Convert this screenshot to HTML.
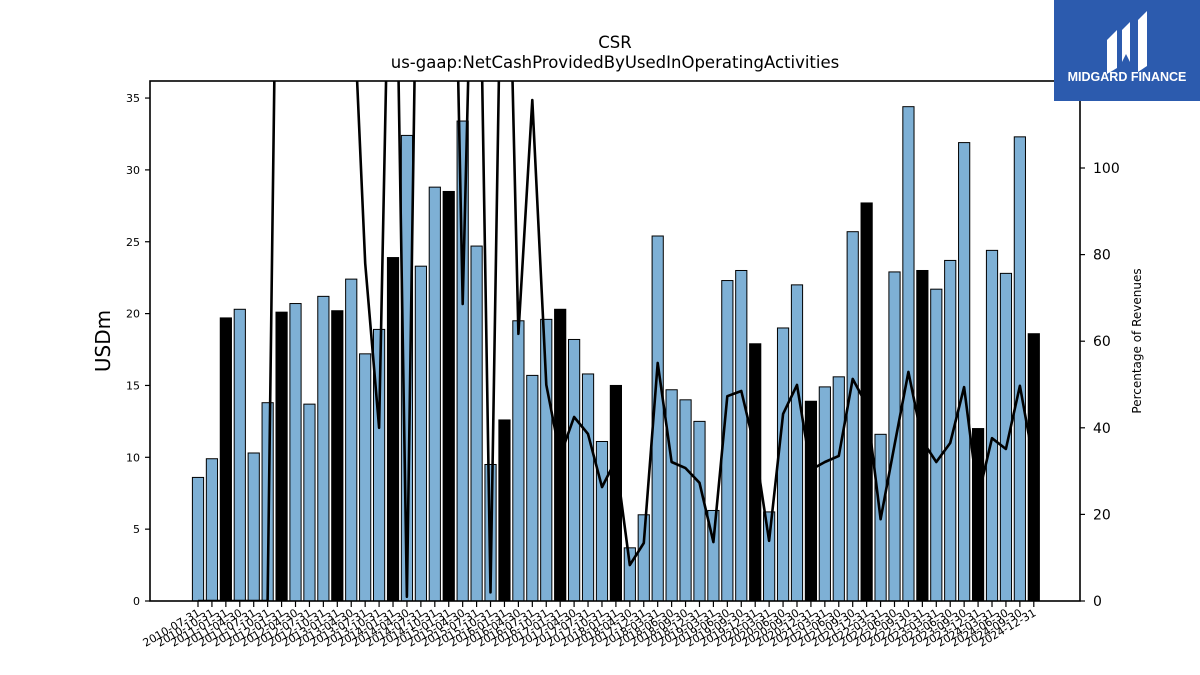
<!DOCTYPE html>
<html><head><meta charset="utf-8">
<style>
html,body{margin:0;padding:0;background:#fff;}
svg{display:block;font-family:"DejaVu Sans","Liberation Sans",sans-serif;}
</style></head>
<body>
<svg id="chart" width="1200" height="675" viewBox="0 0 1200 675" xmlns="http://www.w3.org/2000/svg">
  <text x="615" y="48" text-anchor="middle" font-size="16.5">CSR</text>
  <text x="615" y="68" text-anchor="middle" font-size="16.5">us-gaap:NetCashProvidedByUsedInOperatingActivities</text>
  <text transform="translate(110,341) rotate(-90)" text-anchor="middle" font-size="20">USDm</text>
  <text transform="translate(1141,341) rotate(-90)" text-anchor="middle" font-size="12">Percentage of Revenues</text>
  <g id="bars"></g>
  <g id="line"></g>
  <g id="axes"></g>
  <g>
    <rect x="1054" y="0" width="146" height="101" fill="#2c5bae"/>
    <path d="M1107,40 L1117,30 L1117,68 L1107,74 Z" fill="#fff"/>
    <path d="M1122,30 L1130,22 L1130,62 L1126,54 L1122,62 Z" fill="#fff"/>
    <path d="M1138,20 L1147,11 L1147,66 L1138,72 Z" fill="#fff"/>
    <text x="1127" y="81" text-anchor="middle" font-size="12.5" font-weight="bold" fill="#fff" font-family="Liberation Sans, sans-serif">MIDGARD FINANCE</text>
  </g>
</svg>
<script>
const labels = ["2010-07-31","2010-10-31","2011-01-31","2011-04-30","2011-07-31","2011-10-31","2012-01-31","2012-04-30","2012-07-31","2012-10-31","2013-01-31","2013-04-30","2013-07-31","2013-10-31","2014-01-31","2014-04-30","2014-07-31","2014-10-31","2015-01-31","2015-04-30","2015-07-31","2015-10-31","2016-01-31","2016-04-30","2016-07-31","2016-10-31","2017-01-31","2017-04-30","2017-07-31","2017-10-31","2018-01-31","2018-04-30","2017-12-31","2018-03-31","2018-06-30","2018-09-30","2018-12-31","2019-03-31","2019-06-30","2019-09-30","2019-12-31","2020-03-31","2020-06-30","2020-09-30","2020-12-31","2021-03-31","2021-06-30","2021-09-30","2021-12-31","2022-03-31","2022-06-30","2022-09-30","2022-12-31","2023-03-31","2023-06-30","2023-09-30","2023-12-31","2024-03-31","2024-06-30","2024-09-30","2024-12-31"];
const cashValues = [8.6,9.9,19.7,20.3,10.3,13.8,20.1,20.7,13.7,21.2,20.2,22.4,17.2,18.9,23.9,32.4,23.3,28.8,28.5,33.4,24.7,9.5,12.6,19.5,15.7,19.6,20.3,18.2,15.8,11.1,15.0,3.7,6.0,25.4,14.7,14.0,12.5,6.3,22.3,23.0,17.9,6.2,19.0,22.0,13.9,14.9,15.6,25.7,27.7,11.6,22.9,34.4,23.0,21.7,23.7,31.9,12.0,24.4,22.8,32.3,18.6];
const annualFlags = [0,0,1,0,0,0,1,0,0,0,1,0,0,0,1,0,0,0,1,0,0,0,1,0,0,0,1,0,0,0,1,0,0,0,0,0,0,0,0,0,1,0,0,0,1,0,0,0,1,0,0,0,1,0,0,0,1,0,0,0,1];
const pctValues = [0,0,0,0,0,0,250,300,300,280,260,151,78,40,200,1,220,250,230,68.6,200,2,200,61.7,115.7,49.9,33.5,42.5,38.6,26.3,32.6,8.3,13.4,55,32.1,30.7,27.3,13.6,47.3,48.5,35,13.9,43.2,49.9,30.3,32.1,33.5,51.3,45.3,18.9,36,52.9,37,32.1,36.5,49.4,24,37.6,35.1,49.7,31.9];
const leftTicks = [0,5,10,15,20,25,30,35];
const rightTicks = [0,20,40,60,80,100];

const NS = "http://www.w3.org/2000/svg";
const L = 150, R = 1080, T = 81, B = 601;
const x = i => 198 + i * 13.93;
const yL = v => B - v * 14.37;
const yR = v => B - v * 4.33;
function mk(tag, attrs, parent) { const e = document.createElementNS(NS, tag); for (const k in attrs) e.setAttribute(k, attrs[k]); parent.appendChild(e); return e; }

const bars = document.getElementById('bars');
cashValues.forEach((v, i) => {
  const r = mk('rect', {x: x(i) - 5.6, y: yL(v), width: 11.2, height: B - yL(v), fill: annualFlags[i] ? '#000' : '#7eb0d5', stroke: '#000', 'stroke-width': 1}, bars);
  
  
});

const lg = document.getElementById('line');
const defs = mk('defs', {}, lg);
const cp = mk('clipPath', {id: 'plotclip'}, defs);
mk('rect', {x: L, y: T, width: R - L, height: B - T}, cp);
const pts = pctValues.map((v, i) => x(i).toFixed(1) + ',' + yR(v).toFixed(1)).join(' ');
const pl = mk('polyline', {points: pts, fill: 'none', stroke: '#000', 'stroke-width': 2.6, 'stroke-linejoin': 'round', 'clip-path': 'url(#plotclip)'}, lg);



const ax = document.getElementById('axes');
const frame = mk('rect', {x: L, y: T, width: R - L, height: B - T, fill: 'none', stroke: '#000', 'stroke-width': 1.6}, ax);


leftTicks.forEach(t => {
  mk('line', {x1: L - 5, x2: L, y1: yL(t), y2: yL(t), stroke: '#000', 'stroke-width': 1.2}, ax);
  const tx = mk('text', {x: L - 10, y: yL(t) + 4, 'text-anchor': 'end', 'font-size': 11}, ax);
  tx.textContent = t;
  
  
});
rightTicks.forEach(t => {
  mk('line', {x1: R, x2: R + 5, y1: yR(t), y2: yR(t), stroke: '#000', 'stroke-width': 1.2}, ax);
  const tx = mk('text', {x: R + 13, y: yR(t) + 5, 'text-anchor': 'start', 'font-size': 14}, ax);
  tx.textContent = t;
  
  
});
labels.forEach((lab, i) => {
  mk('line', {x1: x(i), x2: x(i), y1: B, y2: B + 6, stroke: '#000', 'stroke-width': 1.2}, ax);
  const tx = mk('text', {transform: 'translate(' + (x(i) + 3) + ',' + (B + 14) + ') rotate(-30)', 'text-anchor': 'end', 'font-size': 11}, ax);
  tx.textContent = lab;
  
  
});
</script>
</body></html>
